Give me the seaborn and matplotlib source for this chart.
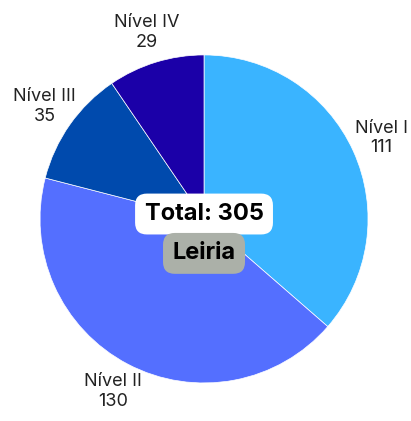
import matplotlib.pyplot as plt
import seaborn as sns

# dados
niveis = ["Nível I", "Nível II", "Nível III", "Nível IV"]
valores = [111, 130, 35, 29]
cores = ["#3AB4FF", "#546FFF", "#004AAD", "#1B00A8"]
distrito = "Leiria"

sns.set_theme(style="white")
plt.rcParams['font.family'] = ['Inter', 'DejaVu Sans']

fig = plt.figure(figsize=(4.11, 4.21), dpi=100)
ax = fig.add_axes([0, 0, 1, 1])

labels = [f"{n}\n{v}" for n, v in zip(niveis, valores)]
wedges, texts = ax.pie(valores, labels=labels, colors=cores, startangle=90,
                       counterclock=False, labeldistance=1.19,
                       wedgeprops=dict(linewidth=0.5, edgecolor="white"),
                       textprops=dict(fontsize=13, color="#222222",
                                      ha="center", va="center",
                                      linespacing=1.2))
for t in texts:
    t.set_horizontalalignment("center")

# raio 1 = ~164 px, centro em (204, 219) a partir do topo
ax.set_aspect("auto")
ax.set_xlim(-1.244, 1.262)
ax.set_ylim(-1.232, 1.335)
ax.axis("off")

total = sum(valores)
ax.text(0, 0.03, f"Total: {total}", ha="center", va="center", fontsize=17,
        fontweight="bold", color="black",
        bbox=dict(boxstyle="round,pad=0.4,rounding_size=0.5", fc="white", ec="none"))
ax.text(0, -0.21, distrito, ha="center", va="center", fontsize=17,
        fontweight="bold", color="black",
        bbox=dict(boxstyle="round,pad=0.4,rounding_size=0.5", fc="#ABB0A8", ec="none"))

fig.savefig("out.png", dpi=100)
